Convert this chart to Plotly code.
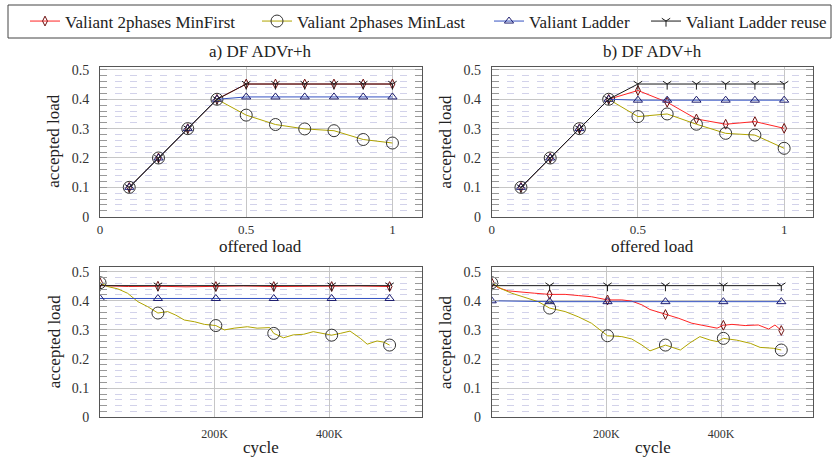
import plotly.graph_objects as go

# ---------------- data ----------------
SERIES = ["Valiant 2phases MinFirst", "Valiant 2phases MinLast", "Valiant Ladder", "Valiant Ladder reuse"]

offered = [0.1, 0.2, 0.3, 0.4, 0.5, 0.6, 0.7, 0.8, 0.9, 1.0]
a_minfirst = [0.1, 0.2, 0.3, 0.4, 0.452, 0.452, 0.452, 0.452, 0.452, 0.452]
a_minlast = [0.1, 0.2, 0.3, 0.4, 0.346, 0.314, 0.299, 0.293, 0.263, 0.251]
a_ladder = [0.1, 0.2, 0.3, 0.4, 0.408, 0.408, 0.408, 0.408, 0.408, 0.408]
a_reuse = [0.1, 0.2, 0.3, 0.4, 0.452, 0.452, 0.452, 0.452, 0.452, 0.452]

b_minfirst = [0.1, 0.2, 0.3, 0.4, 0.430, 0.390, 0.333, 0.315, 0.324, 0.301]
b_minlast = [0.1, 0.2, 0.3, 0.4, 0.341, 0.350, 0.315, 0.284, 0.278, 0.233]
b_ladder = [0.1, 0.2, 0.3, 0.4, 0.397, 0.397, 0.397, 0.397, 0.397, 0.397]
b_reuse = [0.1, 0.2, 0.3, 0.4, 0.452, 0.452, 0.452, 0.452, 0.452, 0.452]

# cycle axis in thousands of cycles
MARK_CYC = [0, 101, 202, 303, 404, 505]

c_minfirst_x = [0, 6, 50, 101, 150, 202, 250, 303, 350, 404, 450, 505]
c_minfirst_y = [0.462, 0.452, 0.449, 0.450, 0.448, 0.449, 0.451, 0.449, 0.450, 0.449, 0.451, 0.449]
c_minlast_x = [0, 13, 31, 48, 66, 83, 101, 118, 132, 147, 165, 182, 202, 217, 234, 257, 274, 296,
               303, 320, 337, 355, 372, 387, 404, 419, 436, 454, 466, 483, 495, 505]
c_minlast_y = [0.462, 0.449, 0.441, 0.426, 0.397, 0.380, 0.358, 0.363, 0.351, 0.334, 0.328, 0.319,
               0.315, 0.300, 0.306, 0.311, 0.306, 0.308, 0.288, 0.273, 0.283, 0.285, 0.294, 0.288,
               0.282, 0.288, 0.296, 0.271, 0.251, 0.262, 0.258, 0.248]
c_ladder_x = [0, 101, 202, 303, 404, 505]
c_ladder_y = [0.408, 0.408, 0.408, 0.408, 0.408, 0.408]
c_reuse_x = [0, 101, 202, 303, 404, 505]
c_reuse_y = [0.452, 0.452, 0.452, 0.452, 0.452, 0.452]

d_minfirst_x = [0, 11, 29, 52, 75, 101, 128, 151, 174, 202, 227, 244, 262, 276, 285, 303, 326, 349,
                372, 393, 404, 419, 442, 465, 483, 494, 505]
d_minfirst_y = [0.462, 0.445, 0.434, 0.429, 0.426, 0.422, 0.422, 0.418, 0.414, 0.403, 0.403, 0.399,
                0.386, 0.370, 0.365, 0.353, 0.340, 0.323, 0.315, 0.306, 0.316, 0.319, 0.315, 0.317,
                0.303, 0.317, 0.298]
d_minlast_x = [0, 17, 35, 58, 81, 101, 128, 151, 174, 202, 227, 244, 262, 276, 288, 303, 329, 346,
               363, 381, 393, 404, 427, 451, 468, 491, 505]
d_minlast_y = [0.462, 0.441, 0.426, 0.411, 0.397, 0.375, 0.363, 0.345, 0.323, 0.280, 0.277, 0.269,
               0.248, 0.228, 0.237, 0.248, 0.231, 0.256, 0.277, 0.265, 0.260, 0.271, 0.265, 0.254,
               0.240, 0.237, 0.231]
d_ladder_x = [0, 101, 202, 303, 404, 505]
d_ladder_y = [0.400, 0.397, 0.397, 0.397, 0.397, 0.397]
d_reuse_x = [0, 101, 202, 303, 404, 505]
d_reuse_y = [0.452, 0.452, 0.452, 0.452, 0.452, 0.452]

TOP_XTICKS = [0, 0.5, 1]
TOP_XTEXT = ["0", "0.5", "1"]
BOT_XTICKS = [200, 400]
BOT_XTEXT = ["200K", "400K"]

# ---------------- style ----------------
LINE_COL = ["#ff2424", "#b0a400", "#3552c2", "#1a1a1a"]
MARK_COL = ["#6e1010", "#333333", "#1c1c6e", "#1a1a1a"]
SYMBOL = ["diamond-tall-open", "circle-open", "triangle-up-open", "y-down"]
MSIZE = [7, 12, 8, 7]
FONT = "Liberation Serif"
W, H = 839, 462
LEGEND_X = [25, 257, 489, 646]   # pixel x of each legend entry


def fx(p):
    return p / W


def fy(p):
    return 1 - p / H


fig = go.Figure()

# top panels: every point marked
for axn, data in [("", [a_minfirst, a_minlast, a_ladder, a_reuse]),
                  ("2", [b_minfirst, b_minlast, b_ladder, b_reuse])]:
    for i, ys in enumerate(data):
        fig.add_trace(go.Scatter(
            x=offered, y=ys, mode="lines+markers", showlegend=False,
            line=dict(color=LINE_COL[i], width=1),
            marker=dict(symbol=SYMBOL[i], size=MSIZE[i], color=MARK_COL[i],
                        line=dict(color=MARK_COL[i], width=1)),
            xaxis="x" + axn, yaxis="y" + axn))

# bottom panels: lines, then markers at the marked cycles
for axn, data in [("3", [(c_minfirst_x, c_minfirst_y), (c_minlast_x, c_minlast_y),
                         (c_ladder_x, c_ladder_y), (c_reuse_x, c_reuse_y)]),
                  ("4", [(d_minfirst_x, d_minfirst_y), (d_minlast_x, d_minlast_y),
                         (d_ladder_x, d_ladder_y), (d_reuse_x, d_reuse_y)])]:
    for i, (xs, ys) in enumerate(data):
        fig.add_trace(go.Scatter(
            x=xs, y=ys, mode="lines", showlegend=False,
            line=dict(color=LINE_COL[i], width=1),
            xaxis="x" + axn, yaxis="y" + axn))
    for i, (xs, ys) in enumerate(data):
        mx = [x for x in xs if x in MARK_CYC]
        my = [y for x, y in zip(xs, ys) if x in MARK_CYC]
        fig.add_trace(go.Scatter(
            x=mx, y=my, mode="markers", showlegend=False,
            marker=dict(symbol=SYMBOL[i], size=MSIZE[i], color=MARK_COL[i],
                        line=dict(color=MARK_COL[i], width=1)),
            xaxis="x" + axn, yaxis="y" + axn))

# legend entries, one legend per entry so each can be placed
legends = {}
for i, name in enumerate(SERIES):
    lname = "legend" if i == 0 else "legend%d" % (i + 1)
    fig.add_trace(go.Scatter(
        x=[None], y=[None], mode="lines+markers", name=name, legend=lname,
        line=dict(color=LINE_COL[i], width=1),
        marker=dict(symbol=SYMBOL[i], size=MSIZE[i], color=MARK_COL[i],
                    line=dict(color=MARK_COL[i], width=1))))
    legends[lname] = dict(orientation="h", x=fx(LEGEND_X[i]), y=fy(21.5), xanchor="left",
                          yanchor="middle", font=dict(family=FONT, size=17, color="#222"),
                          bgcolor="rgba(0,0,0,0)", itemwidth=30, borderwidth=0)

BOX = "#555555"
GRID = "#c6c6c6"
MINOR = "#d2d2ea"


def yaxis(dom, rng, anchor):
    return dict(domain=dom, range=rng, anchor=anchor, tick0=0, dtick=0.1,
                showgrid=True, gridcolor=GRID, gridwidth=1, zeroline=False,
                showline=True, linecolor=BOX, linewidth=1, mirror="allticks",
                ticks="inside", ticklen=7, tickcolor="#999999",
                minor=dict(dtick=0.02, tick0=0, showgrid=True, gridcolor=MINOR, griddash="7px,8px",
                           ticks="inside", ticklen=7, tickcolor="#999999"),
                tickfont=dict(family=FONT, size=14, color="#333"),
                ticklabelstandoff=7, fixedrange=True)


def xaxis(dom, rng, anchor, tv, tt, fs, so):
    return dict(domain=dom, range=rng, anchor=anchor, tickmode="array", tickvals=tv, ticktext=tt,
                showgrid=True, gridcolor=GRID, gridwidth=1, zeroline=False,
                showline=True, linecolor=BOX, linewidth=1, mirror=True, ticks="",
                tickfont=dict(family=FONT, size=fs, color="#333"),
                ticklabelstandoff=so, fixedrange=True)


TOP_Y = [fy(216.7), fy(66.7)]
BOT_Y = [fy(417.3), fy(267.3)]
LEFT_X = [fx(100), fx(421.7)]
RIGHT_X = [fx(491.7), fx(813.4)]

fig.update_layout(
    width=W, height=H, margin=dict(l=0, r=0, t=0, b=0, autoexpand=False),
    paper_bgcolor="white", plot_bgcolor="white",
    font=dict(family=FONT, color="#222"),
    xaxis=xaxis(LEFT_X, [0, 1.1], "y", TOP_XTICKS, TOP_XTEXT, 13, 1),
    yaxis=yaxis(TOP_Y, [0, 0.511], "x"),
    xaxis2=xaxis(RIGHT_X, [0, 1.1], "y2", TOP_XTICKS, TOP_XTEXT, 13, 1),
    yaxis2=yaxis(TOP_Y, [0, 0.511], "x2"),
    xaxis3=xaxis(LEFT_X, [0, 561], "y3", BOT_XTICKS, BOT_XTEXT, 12, 5),
    yaxis3=yaxis(BOT_Y, [0, 0.515], "x3"),
    xaxis4=xaxis(RIGHT_X, [0, 561], "y4", BOT_XTICKS, BOT_XTEXT, 12, 5),
    yaxis4=yaxis(BOT_Y, [0, 0.515], "x4"),
    showlegend=True,
    shapes=[dict(type="rect", xref="paper", yref="paper", x0=fx(8), x1=fx(831),
                 y0=fy(38), y1=fy(5), line=dict(color="#444", width=1))],
    **legends,
)

ann = []
for cx, t in [(260.9, "a) DF ADVr+h"), (652.6, "b) DF ADV+h")]:
    ann.append(dict(text=t, x=fx(cx), y=fy(52), xref="paper", yref="paper", showarrow=False,
                    xanchor="center", yanchor="middle", font=dict(family=FONT, size=17, color="#222")))
for cx in [260.9, 652.6]:
    ann.append(dict(text="offered load", x=fx(cx), y=fy(246.5), xref="paper", yref="paper",
                    showarrow=False, xanchor="center", yanchor="middle",
                    font=dict(family=FONT, size=17, color="#222")))
    ann.append(dict(text="cycle", x=fx(cx), y=fy(447), xref="paper", yref="paper",
                    showarrow=False, xanchor="center", yanchor="middle",
                    font=dict(family=FONT, size=17, color="#222")))
for lx in [54, 445.7]:
    for cy in [141.7, 342.3]:
        ann.append(dict(text="accepted load", x=fx(lx), y=fy(cy), xref="paper", yref="paper",
                        showarrow=False, xanchor="center", yanchor="middle", textangle=-90,
                        font=dict(family=FONT, size=17, color="#222")))
fig.update_layout(annotations=ann)

fig.write_html("out.html", config={"displayModeBar": False, "staticPlot": True},
               post_script="document.body.style.margin='0';document.body.style.overflow='hidden';")
